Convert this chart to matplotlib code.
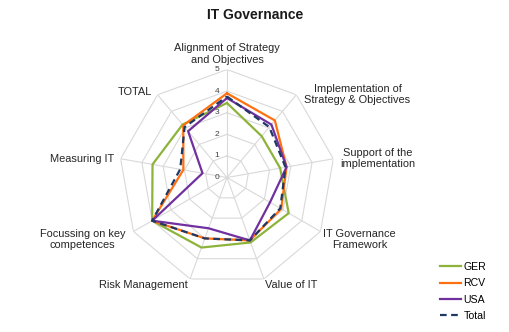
import numpy as np
import matplotlib
matplotlib.use("Agg")
import matplotlib.pyplot as plt

plt.rcParams['font.family'] = ['Liberation Sans', 'DejaVu Sans']

categories = ["Alignment of Strategy\nand Objectives",
              "Implementation of\nStrategy & Objectives",
              "Support of the\nimplementation",
              "IT Governance\nFramework",
              "Value of IT",
              "Risk Management",
              "Focussing on key\ncompetences",
              "Measuring IT",
              "TOTAL"]

ger = [3.45, 2.5, 2.5, 3.3, 3.2, 3.45, 4.0, 3.5, 3.2]
rcv = [3.9, 3.45, 2.8, 2.9, 3.1, 3.0, 4.0, 2.05, 3.15]
usa = [3.68, 3.2, 2.8, 2.3, 3.1, 2.5, 4.0, 1.15, 2.8]
total = [3.75, 3.05, 2.75, 2.85, 3.1, 3.0, 4.0, 2.2, 3.05]
levels = [0, 1, 2, 3, 4, 5]

n = len(categories)
angles = np.linspace(0, 2 * np.pi, n, endpoint=False)
closed = np.append(angles, angles[0])

fig = plt.figure(figsize=(5.1, 3.32), dpi=100)
ax = fig.add_axes([0.2333, 0.140, 0.4235, 0.6506], projection='polar')
ax.set_theta_offset(np.pi / 2)
ax.set_theta_direction(-1)
ax.set_ylim(0, 5)
ax.grid(False)
ax.spines['polar'].set_visible(False)
ax.set_xticks([])
ax.set_yticks([])
ax.patch.set_visible(False)

# polygon grid and spokes
grid_c = '#d9d9d9'
for lv in levels[1:]:
    ax.plot(closed, [lv] * (n + 1), color=grid_c, lw=0.8, zorder=1)
for a in angles:
    ax.plot([a, a], [0, 5], color=grid_c, lw=0.8, zorder=1)

for lv in levels:
    ax.annotate(str(lv), xy=(0, lv), xytext=(-10, 0), textcoords='offset pixels',
                ha='center', va='center', fontsize=6, color='#404040')

series = [("GER", ger, '#8db33a', '-'),
          ("RCV", rcv, '#ff7010', '-'),
          ("USA", usa, '#7030a0', '-'),
          ("Total", total, '#1f3864', '--')]
for name, vals, col, ls in series:
    v = np.append(vals, vals[0])
    line, = ax.plot(closed, v, color=col, lw=1.6, ls=ls, label=name, zorder=3)
    if ls == '--':
        line.set_dashes((3, 2))

# category labels: (radius, pixel offset, ha, va)
label_pos = [
    (5, (0, 5), 'center', 'bottom'),
    (5, (8, 0), 'left', 'center'),
    (5, (7, 0), 'left', 'center'),
    (5, (3, 3), 'left', 'top'),
    (5, (1, -1), 'left', 'top'),
    (5, (-2, -1), 'right', 'top'),
    (5, (-8, 3), 'right', 'top'),
    (5, (-6, 0), 'right', 'center'),
    (5, (-5, 3), 'right', 'center'),
]
for a, lab, (r, off, ha, va) in zip(angles, categories, label_pos):
    ax.annotate(lab, xy=(a, r), xytext=off, textcoords='offset pixels',
                ha=ha, va=va, multialignment='center', fontsize=7.9,
                linespacing=1.15, color='#262626')

fig.text(0.5, 0.955, "IT Governance", ha='center', va='center',
         fontsize=10, fontweight='bold', color='#1a1a1a')

leg = fig.legend(loc='lower left', bbox_to_anchor=(0.855, 0.02), frameon=False,
                 fontsize=7.6, handlelength=2.0, handletextpad=0.2,
                 labelspacing=0.6, borderaxespad=0)

fig.savefig("out.png", dpi=100)
